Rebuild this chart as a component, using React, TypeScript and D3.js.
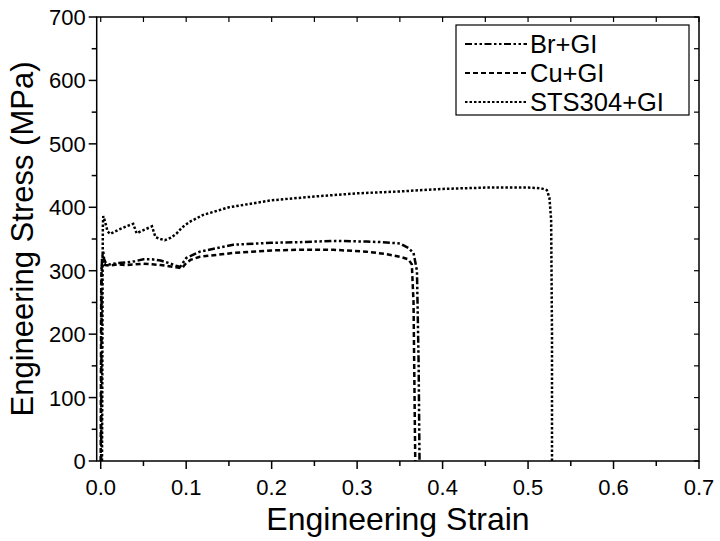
import React from 'react';
import * as d3 from 'd3';

const xTicks = [0, 0.1, 0.2, 0.3, 0.4, 0.5, 0.6, 0.7];
const xTickLabels = ['0.0', '0.1', '0.2', '0.3', '0.4', '0.5', '0.6', '0.7'];
const xMinor = [0.05, 0.15, 0.25, 0.35, 0.45, 0.55, 0.65];
const yTicks = [0, 100, 200, 300, 400, 500, 600, 700];
const yMinor = [50, 150, 250, 350, 450, 550, 650];

const seriesNames = ['Br+GI', 'Cu+GI', 'STS304+GI'];

const brStrain = [0.0005, 0.0008, 0.001, 0.0015, 0.003, 0.004, 0.006, 0.01, 0.02, 0.03, 0.04, 0.05, 0.06, 0.07, 0.08, 0.088, 0.093, 0.1, 0.116, 0.155, 0.2, 0.233, 0.272, 0.311, 0.33, 0.35, 0.36, 0.366, 0.37, 0.372, 0.373];
const brStress = [0, 150, 280, 320, 330, 318, 312, 310, 312, 313, 315, 318, 318, 316, 312, 308, 306, 320, 330, 341, 344, 345, 347, 346, 345, 343, 336, 328, 300, 150, 0];

const cuStrain = [0, 0.0003, 0.0006, 0.001, 0.002, 0.005, 0.01, 0.02, 0.03, 0.04, 0.05, 0.06, 0.07, 0.08, 0.09, 0.095, 0.1, 0.105, 0.116, 0.155, 0.2, 0.233, 0.272, 0.311, 0.335, 0.35, 0.36, 0.364, 0.366, 0.368];
const cuStress = [0, 150, 280, 305, 312, 309, 308, 310, 309, 310, 311, 310, 309, 307, 305, 304, 312, 317, 322, 328, 332, 333, 333, 330, 326, 322, 318, 310, 250, 0];

const stsStrain = [0.0015, 0.0018, 0.002, 0.0022, 0.0025, 0.003, 0.005, 0.008, 0.011, 0.02, 0.03, 0.038, 0.042, 0.05, 0.06, 0.064, 0.07, 0.075, 0.082, 0.089, 0.095, 0.104, 0.12, 0.15, 0.2, 0.25, 0.3, 0.35, 0.4, 0.45, 0.5, 0.515, 0.522, 0.525, 0.527, 0.528, 0.528];
const stsStress = [0, 100, 200, 300, 370, 386, 378, 362, 358, 364, 370, 374, 359, 364, 370, 353, 350, 348, 352, 359, 368, 377, 388, 400, 411, 417, 422, 425, 429, 431, 431, 430, 427, 415, 380, 200, 0];

const FONT = '"Liberation Sans", Arial, sans-serif';

export default function App() {
  const W = 720, H = 541;
  const left = 96.7, right = 699, top = 17, bottom = 461;
  const x = d3.scaleLinear().domain([-0.0047, 0.7]).range([left, right]);
  const y = d3.scaleLinear().domain([0, 700]).range([bottom, top]);
  const line = d3.line<[number, number]>().x(d => x(d[0])).y(d => y(d[1]));

  const series = [
    { name: seriesNames[0], pts: brStrain.map((s, i) => [s, brStress[i]] as [number, number]), dash: '7,2.5,2.5,2.5,2.5,2.5' },
    { name: seriesNames[1], pts: cuStrain.map((s, i) => [s, cuStress[i]] as [number, number]), dash: '5,3' },
    { name: seriesNames[2], pts: stsStrain.map((s, i) => [s, stsStress[i]] as [number, number]), dash: '2.5,2' },
  ];

  const legendY = [44, 73, 102];

  return (
    <svg width={W} height={H} style={{ position: 'absolute', left: 0, top: 0, background: '#fff' }} fontFamily={FONT}>
      <rect x={0} y={0} width={W} height={H} fill="#fff" />
      {series.map(s => (
        <path key={s.name} d={line(s.pts) || ''} fill="none" stroke="#000" strokeWidth={2.5} strokeDasharray={s.dash} />
      ))}
      <rect x={left} y={top} width={right - left} height={bottom - top} fill="none" stroke="#000" strokeWidth={1.5} />
      {xTicks.map((t, i) => (
        <g key={'xt' + i}>
          <line x1={x(t)} x2={x(t)} y1={bottom} y2={bottom + 8} stroke="#000" strokeWidth={1.5} />
          <line x1={x(t)} x2={x(t)} y1={top} y2={top + 5} stroke="#000" strokeWidth={1.2} />
          <text x={x(t)} y={bottom + 34} textAnchor="middle" fontSize={22}>{xTickLabels[i]}</text>
        </g>
      ))}
      {xMinor.map((t, i) => (
        <g key={'xm' + i}>
          <line x1={x(t)} x2={x(t)} y1={bottom} y2={bottom + 5} stroke="#000" strokeWidth={1.5} />
          <line x1={x(t)} x2={x(t)} y1={top} y2={top + 5} stroke="#000" strokeWidth={1.2} />
        </g>
      ))}
      {yTicks.map((t, i) => (
        <g key={'yt' + i}>
          <line x1={left - 8} x2={left} y1={y(t)} y2={y(t)} stroke="#000" strokeWidth={1.5} />
          <line x1={right - 5} x2={right} y1={y(t)} y2={y(t)} stroke="#000" strokeWidth={1.2} />
          <text x={left - 11} y={y(t) + 8} textAnchor="end" fontSize={22}>{String(t)}</text>
        </g>
      ))}
      {yMinor.map((t, i) => (
        <g key={'ym' + i}>
          <line x1={left - 5} x2={left} y1={y(t)} y2={y(t)} stroke="#000" strokeWidth={1.5} />
          <line x1={right - 5} x2={right} y1={y(t)} y2={y(t)} stroke="#000" strokeWidth={1.2} />
        </g>
      ))}
      <text x={398} y={530} textAnchor="middle" fontSize={32}>Engineering Strain</text>
      <text transform={`translate(33, 239) rotate(-90)`} textAnchor="middle" fontSize={31}>Engineering Stress (MPa)</text>
      <rect x={456} y={25} width={233} height={90} fill="#fff" stroke="#000" strokeWidth={1.2} />
      {series.map((s, i) => (
        <g key={'lg' + i}>
          <line x1={465} x2={527} y1={legendY[i]} y2={legendY[i]} stroke="#000" strokeWidth={2.2} strokeDasharray={s.dash} />
          <text x={530} y={legendY[i] + 9} fontSize={25.5}>{s.name}</text>
        </g>
      ))}
    </svg>
  );
}
